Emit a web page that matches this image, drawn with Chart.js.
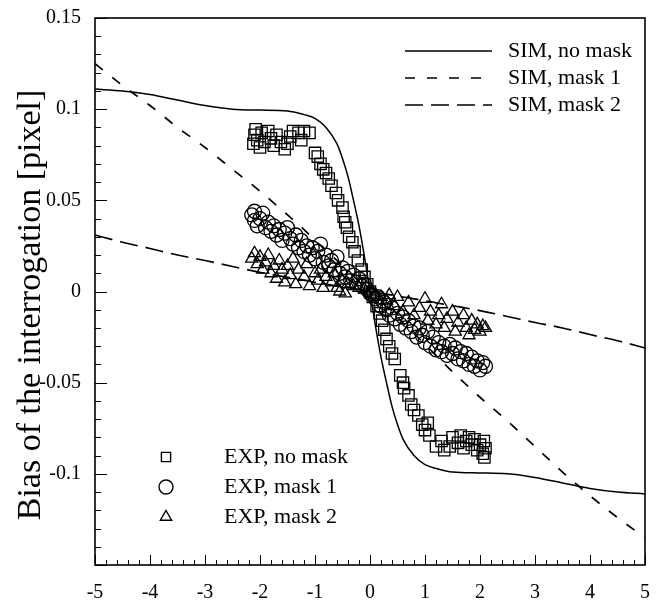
<!DOCTYPE html>
<html>
<head>
<meta charset="utf-8">
<script src="https://cdn.jsdelivr.net/npm/chart.js@4/dist/chart.umd.min.js"></script>
<style>
   html, body { margin: 0; padding: 0; background: #fff; }
   #chart { display: block; }
</style>
</head>
<body>
<canvas id="chart" width="658" height="606"></canvas>
<script>
// simulation curves (x positions shared by the three SIM lines)
const simX       = [-5, -4.5, -4, -3.5, -3, -2.5, -2, -1.5, -1.2, -1, -0.8, -0.6, -0.5, -0.4, -0.3, -0.2, -0.1, 0, 0.1, 0.2, 0.3, 0.4, 0.5, 0.6, 0.8, 1, 1.2, 1.5, 2, 2.5, 3, 3.5, 4, 4.5, 5];
const simNoMask  = [0.111, 0.110, 0.108, 0.105, 0.102, 0.100, 0.0995, 0.099, 0.097, 0.095, 0.090, 0.081, 0.073, 0.063, 0.050, 0.036, 0.019, 0, -0.019, -0.036, -0.050, -0.063, -0.073, -0.081, -0.090, -0.095, -0.097, -0.099, -0.0995, -0.100, -0.102, -0.105, -0.108, -0.110, -0.111];
const simMask1   = [0.125, 0.113, 0.102, 0.090, 0.079, 0.067, 0.055, 0.042, 0.034, 0.028, 0.0225, 0.017, 0.014, 0.011, 0.0083, 0.0055, 0.0028, 0, -0.0028, -0.0056, -0.0085, -0.0114, -0.0143, -0.0172, -0.023, -0.029, -0.035, -0.044, -0.058, -0.071, -0.085, -0.099, -0.112, -0.124, -0.135];
const simMask2   = [0.031, 0.027, 0.0236, 0.020, 0.017, 0.0137, 0.0105, 0.0078, 0.0062, 0.005, 0.004, 0.003, 0.0025, 0.002, 0.0015, 0.001, 0.0005, 0, -0.0005, -0.001, -0.0015, -0.002, -0.0025, -0.003, -0.004, -0.005, -0.0062, -0.0078, -0.0105, -0.0137, -0.017, -0.020, -0.0236, -0.027, -0.031];

// experiment, no mask (squares)
const expNoMaskX = [-2.12, -2.1, -2.08, -2.05, -2.0, -1.97, -1.92, -1.85, -1.8, -1.75, -1.7, -1.62, -1.55, -1.5, -1.45, -1.4, -1.3, -1.25, -1.2, -1.1,
   -1.0, -0.95, -0.9, -0.85, -0.8, -0.75, -0.7, -0.62, -0.58, -0.5, -0.48, -0.45, -0.42, -0.38, -0.32, -0.28, -0.22, -0.15, -0.1, -0.05, 0, 0.05,
   0.12, 0.18, 0.22, 0.26, 0.3, 0.35, 0.4, 0.45, 0.55, 0.6, 0.62, 0.7, 0.75, 0.8, 0.88, 0.95, 1.0, 1.08, 1.05,
   1.2, 1.3, 1.35, 1.45, 1.5, 1.6, 1.65, 1.7, 1.75, 1.8, 1.85, 1.9, 1.95, 2.0, 2.05, 2.07, 2.1, 2.08];
const expNoMaskY = [0.081, 0.086, 0.089, 0.083, 0.079, 0.087, 0.082, 0.088, 0.084, 0.080, 0.086, 0.082, 0.078, 0.081, 0.085, 0.088, 0.087, 0.083, 0.088, 0.087,
   0.076, 0.074, 0.070, 0.067, 0.065, 0.062, 0.058, 0.054, 0.050, 0.046, 0.041, 0.038, 0.035, 0.030, 0.027, 0.022, 0.017, 0.012, 0.008, 0.004, 0, -0.003,
   -0.008, -0.012, -0.016, -0.021, -0.026, -0.030, -0.034, -0.037, -0.046, -0.050, -0.053, -0.057, -0.062, -0.065, -0.068, -0.073, -0.076, -0.079, -0.072,
   -0.085, -0.082, -0.087, -0.085, -0.080, -0.083, -0.079, -0.086, -0.082, -0.080, -0.084, -0.081, -0.087, -0.084, -0.089, -0.082, -0.086, -0.091];

// experiment, mask 1 (circles)
const expMask1X = [-2.15, -2.1, -2.1, -2.05, -2.0, -1.95, -1.9, -1.85, -1.8, -1.75, -1.7, -1.65, -1.6, -1.55, -1.5, -1.45, -1.4, -1.35, -1.3, -1.25,
   -1.2, -1.15, -1.1, -1.05, -1.0, -0.95, -0.9, -0.85, -0.8, -0.75, -0.7, -0.65, -0.6, -0.55, -0.5, -0.45, -0.4, -0.35, -0.3, -0.25, -0.2, -0.15, -0.1, -0.05,
   0, 0.05, 0.1, 0.15, 0.2, 0.25, 0.3, 0.35, 0.4, 0.45, 0.5, 0.55, 0.6, 0.65, 0.7, 0.75, 0.8, 0.85, 0.9, 0.95, 1.0, 1.05, 1.1, 1.15, 1.2, 1.25,
   1.3, 1.35, 1.4, 1.45, 1.5, 1.55, 1.6, 1.65, 1.7, 1.75, 1.8, 1.85, 1.9, 1.95, 2.0, 2.05, 2.1];
const expMask1Y = [0.042, 0.039, 0.044, 0.036, 0.040, 0.043, 0.035, 0.038, 0.033, 0.036, 0.031, 0.034, 0.028, 0.032, 0.035, 0.029, 0.026, 0.031, 0.024, 0.028,
   0.022, 0.025, 0.020, 0.024, 0.018, 0.022, 0.026, 0.016, 0.020, 0.014, 0.017, 0.012, 0.019, 0.010, 0.013, 0.008, 0.011, 0.006, 0.009, 0.005, 0.007, 0.003, 0.004, 0.001,
   -0.001, -0.002, -0.004, -0.003, -0.008, -0.006, -0.010, -0.013, -0.009, -0.015, -0.012, -0.018, -0.014, -0.020, -0.016, -0.022, -0.019, -0.025, -0.020, -0.024, -0.028, -0.022, -0.030, -0.025, -0.032, -0.028,
   -0.033, -0.030, -0.035, -0.029, -0.034, -0.031, -0.037, -0.033, -0.038, -0.034, -0.040, -0.036, -0.041, -0.038, -0.043, -0.039, -0.041];

// experiment, mask 2 (triangles)
const expMask2X = [-2.15, -2.1, -2.05, -2.0, -1.95, -1.9, -1.85, -1.8, -1.75, -1.7, -1.65, -1.6, -1.55, -1.5, -1.45, -1.4, -1.35, -1.3, -1.2, -1.15,
   -1.1, -1.0, -0.95, -0.9, -0.85, -0.8, -0.7, -0.65, -0.6, -0.55, -0.5, -0.45, -0.4, -0.3, -0.2, -0.1, 0, 0.1, 0.2, 0.3, 0.35, 0.45, 0.5,
   0.6, 0.7, 0.8, 0.9, 1.0, 1.05, 1.1, 1.2, 1.25, 1.3, 1.35, 1.4, 1.5, 1.55, 1.6, 1.7, 1.75, 1.8, 1.85, 1.9, 1.95, 2.0, 2.05, 2.1];
const expMask2Y = [0.018, 0.021, 0.015, 0.019, 0.012, 0.016, 0.020, 0.010, 0.014, 0.007, 0.017, 0.012, 0.005, 0.014, 0.009, 0.018, 0.004, 0.012, 0.008, 0.015,
   0.003, 0.010, 0.006, 0.012, 0.002, 0.008, 0.005, 0.010, 0.002, 0.000, 0.006, -0.001, 0.004, 0.003, 0.002, 0.001, 0, -0.002, -0.003, -0.005, -0.002, -0.008, -0.003,
   -0.011, -0.006, -0.013, -0.009, -0.004, -0.016, -0.011, -0.018, -0.013, -0.007, -0.020, -0.015, -0.011, -0.022, -0.017, -0.013, -0.020, -0.024, -0.016, -0.021, -0.018, -0.022, -0.019, -0.020];

const simLabels = ['SIM, no mask', 'SIM, mask 1', 'SIM, mask 2'];
const expLabels = ['EXP, no mask', 'EXP, mask 1', 'EXP, mask 2'];
const yTitle = 'Bias of the interrogation [pixel]';

const serif = '"Liberation Serif", "Times New Roman", serif';

function pairs(xs, ys) {
   return xs.map((x, i) => ({x: x, y: ys[i]}));
}

function simSet(label, ys, dash, width) {
   return {
      type: 'line', label: label, data: pairs(simX, ys),
      borderColor: '#000', borderWidth: width, borderDash: dash,
      pointRadius: 0, fill: false, cubicInterpolationMode: 'monotone'
   };
}

function expSet(label, xs, ys, style, r) {
   return {
      type: 'scatter', label: label, data: pairs(xs, ys),
      pointStyle: style, pointRadius: r, pointBorderWidth: 1.3,
      pointBorderColor: '#000', pointBackgroundColor: 'rgba(0,0,0,0)', showLine: false
   };
}

// ticks drawn inside the frame, long on the labelled values
const frameTicks = {
   id: 'frameTicks',
   afterDatasetsDraw(chart) {
      const {ctx, chartArea: a, scales} = chart;
      ctx.save();
      ctx.strokeStyle = '#000';
      ctx.lineWidth = 1;
      scales.x.ticks.forEach(t => {
         const px = Math.round(scales.x.getPixelForValue(t.value)) + 0.5;
         const len = Math.abs(t.value - Math.round(t.value)) < 1e-6 ? 10 : 5;
         ctx.beginPath(); ctx.moveTo(px, a.bottom); ctx.lineTo(px, a.bottom - len); ctx.stroke();
      });
      scales.y.ticks.forEach(t => {
         const py = Math.round(scales.y.getPixelForValue(t.value)) + 0.5;
         const len = Math.round(t.value * 100) % 5 === 0 ? 12 : 6;
         ctx.beginPath(); ctx.moveTo(a.left, py); ctx.lineTo(a.left + len, py); ctx.stroke();
      });
      ctx.lineWidth = 1.6;
      ctx.strokeRect(a.left, a.top, a.right - a.left, a.bottom - a.top);
      ctx.restore();
   }
};

// y title and the two legend blocks inside the plot
const legendBlocks = {
   id: 'legendBlocks',
   afterDraw(chart) {
      const ctx = chart.ctx;
      const sets = chart.data.datasets;
      ctx.save();
      ctx.fillStyle = '#000';
      ctx.textBaseline = 'middle';

      ctx.save();
      ctx.font = '34px ' + serif;
      ctx.textAlign = 'center';
      ctx.translate(31, 305);
      ctx.rotate(-Math.PI / 2);
      ctx.fillText(yTitle, 0, 0);
      ctx.restore();

      ctx.font = '22px ' + serif;
      [0, 1, 2].forEach(i => {
         const ds = sets[i], y = 51 + i * 27;
         ctx.strokeStyle = '#000';
         ctx.lineWidth = ds.borderWidth;
         ctx.setLineDash(ds.borderDash || []);
         ctx.beginPath(); ctx.moveTo(405, y); ctx.lineTo(492, y); ctx.stroke();
         ctx.setLineDash([]);
         ctx.fillText(ds.label, 508, y);
      });
      [3, 4, 5].forEach((i, k) => {
         const ds = sets[i], y = 457 + k * 30;
         const r = [6.5, 7, 6.5][k];
         ctx.save();
         ctx.fillStyle = 'rgba(0,0,0,0)';
         ctx.strokeStyle = '#000';
         ctx.lineWidth = 1.4;
         Chart.helpers.drawPoint(ctx, {pointStyle: ds.pointStyle, radius: r, borderWidth: 1.4}, 166, y);
         ctx.restore();
         ctx.fillText(ds.label, 224, y);
      });
      ctx.restore();
   }
};

const chart = new Chart(document.getElementById('chart'), {
   data: {
      datasets: [
         simSet(simLabels[0], simNoMask, [], 1.5),
         simSet(simLabels[1], simMask1, [10, 12], 1.7),
         simSet(simLabels[2], simMask2, [18, 8], 1.7),
         expSet(expLabels[0], expNoMaskX, expNoMaskY, 'rect', 8),
         expSet(expLabels[1], expMask1X, expMask1Y, 'circle', 7),
         expSet(expLabels[2], expMask2X, expMask2Y, 'triangle', 7)
      ]
   },
   options: {
      responsive: false,
      animation: false,
      devicePixelRatio: 1,
      layout: { padding: { top: 9, right: 5, left: 0, bottom: 0 } },
      plugins: { legend: { display: false }, tooltip: { enabled: false } },
      scales: {
         x: {
            type: 'linear', min: -5, max: 5,
            grid: { display: false }, border: { display: false },
            ticks: {
               stepSize: 0.2, autoSkip: false, maxRotation: 0, padding: 8,
               color: '#000', font: { family: serif, size: 20 },
               callback: v => Math.abs(v - Math.round(v)) < 1e-6 ? String(Math.round(v)) : ''
            },
            afterFit: s => { s.height = 41; }
         },
         y: {
            type: 'linear', min: -0.15, max: 0.15,
            grid: { display: false }, border: { display: false },
            ticks: {
               stepSize: 0.01, autoSkip: false, padding: 6,
               color: '#000', font: { family: serif, size: 20 },
               callback: v => {
                  const k = Math.round(v * 100);
                  return (k % 5 !== 0 || k === -15) ? '' : String(k / 100);
               }
            },
            afterFit: s => { s.width = 95; }
         }
      }
   },
   plugins: [frameTicks, legendBlocks]
});
</script>
</body>
</html>
